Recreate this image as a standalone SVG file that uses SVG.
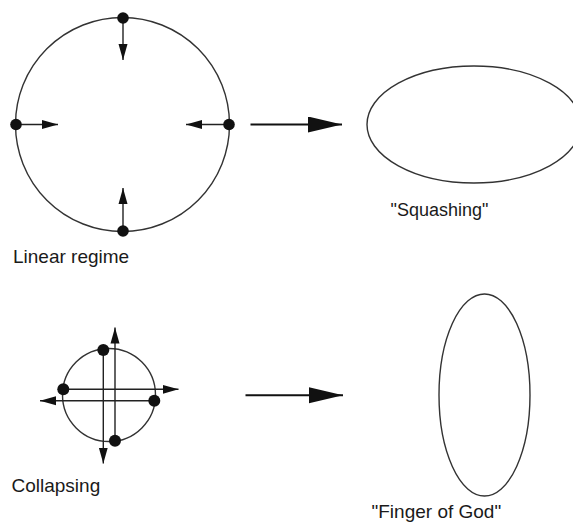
<svg xmlns="http://www.w3.org/2000/svg" width="573" height="527" viewBox="0 0 573 527">
<defs>
<marker id="headS" markerUnits="userSpaceOnUse" markerWidth="18" markerHeight="10" refX="16" refY="4.5" orient="auto" viewBox="0 -0.5 18 10">
<path d="M0,0 L16,4.5 L0,9 z" fill="#111"/>
</marker>
<marker id="headL" markerUnits="userSpaceOnUse" markerWidth="36" markerHeight="18" refX="34" refY="8" orient="auto" viewBox="0 0 36 18">
<path d="M0,0 L34,8 L0,16 z" fill="#111"/>
</marker>
</defs>
<style>
.shape{fill:none;stroke:#333;stroke-width:1.4}
.dot{fill:#111}
.arr{stroke:#222;stroke-width:1.4;fill:none;marker-end:url(#headS)}
.big{stroke:#111;stroke-width:2;fill:none;marker-end:url(#headL)}
.lbl{font-family:"Liberation Sans",Arial,sans-serif;font-size:19px;fill:#1a1a1a}
</style>
<g id="linear">
<circle class="shape" cx="122.5" cy="124.5" r="107"/>
<line class="arr" x1="123" y1="18" x2="123" y2="60"/>
<line class="arr" x1="16" y1="124.5" x2="58" y2="124.5"/>
<line class="arr" x1="229" y1="124.5" x2="186" y2="124.5"/>
<line class="arr" x1="123" y1="231" x2="123" y2="188"/>
<circle class="dot" cx="123" cy="18" r="5.8"/>
<circle class="dot" cx="16" cy="124.5" r="5.8"/>
<circle class="dot" cx="229" cy="124.5" r="5.8"/>
<circle class="dot" cx="123" cy="231" r="5.8"/>
<text class="lbl" x="13" y="262.5">Linear regime</text>
</g>
<g id="squashing">
<ellipse class="shape" cx="474" cy="124.5" rx="107" ry="58.5"/>
<text class="lbl" x="390.5" y="216" style="font-size:18px">"Squashing"</text>
</g>
<g id="collapsing">
<circle class="shape" cx="109" cy="395" r="46.5"/>
<line class="arr" x1="103.3" y1="350" x2="103.3" y2="463.5"/>
<line class="arr" x1="115" y1="440.7" x2="115" y2="327.5"/>
<line class="arr" x1="63.3" y1="389.3" x2="178.5" y2="389.3"/>
<line class="arr" x1="154.3" y1="400.7" x2="40" y2="400.7"/>
<circle class="dot" cx="103.3" cy="350" r="6"/>
<circle class="dot" cx="63.3" cy="389.3" r="6"/>
<circle class="dot" cx="154.3" cy="400.7" r="6"/>
<circle class="dot" cx="115" cy="440.7" r="6"/>
<text class="lbl" x="11.5" y="491.5">Collapsing</text>
</g>
<g id="finger">
<ellipse class="shape" cx="484.5" cy="395" rx="45.5" ry="101"/>
<text class="lbl" x="371.5" y="518">"Finger of God"</text>
</g>
<g id="connectors">
<line class="big" x1="250.5" y1="124.5" x2="342" y2="124.5"/>
<line class="big" x1="245.5" y1="395.3" x2="343" y2="395.3"/>
</g>
</svg>
